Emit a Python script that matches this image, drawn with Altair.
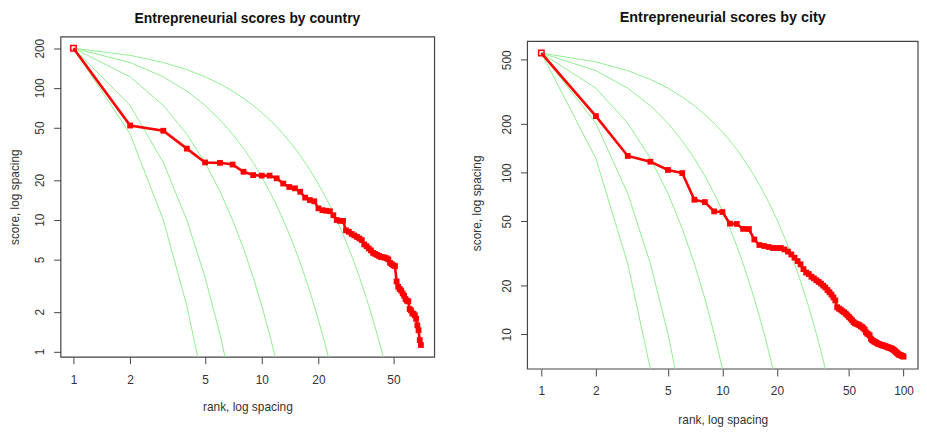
import altair as alt
import pandas as pd

# ---------------- data ----------------
country_ranks = list(range(1, 71))
country_scores = [200, 51.8, 47.3, 34.6, 27.2, 27.0, 26.2, 23.1, 21.8, 21.6,
                  21.6, 20.6, 18.8, 17.7, 17.3, 16.3, 14.7, 14.1, 13.8, 12.2,
                  11.8, 11.7, 11.6, 10.8, 9.95, 9.8, 9.8, 8.3, 8.1, 7.8,
                  7.6, 7.4, 7.2, 7.0, 6.5, 6.3, 6.05, 5.85, 5.6, 5.5,
                  5.4, 5.3, 5.2, 5.2, 5.15, 5.1, 5.0, 4.7, 4.6, 4.5,
                  4.45, 3.4, 3.1, 2.98, 2.9, 2.76, 2.65, 2.5, 2.43, 2.4,
                  2.1, 2.05, 1.95, 1.93, 1.88, 1.77, 1.58, 1.45, 1.22, 1.12]

city_ranks = list(range(1, 101))
city_scores = [550, 224, 127, 117, 104, 99.5, 68, 65.8, 57.6, 57.1,
               48.4, 48.2, 44.9, 44.8, 38.6, 35.7, 35.2, 34.7, 34.2, 34.2,
               34.2, 33.5, 32.5, 31.2, 29.8, 28.4, 27.1, 25.3, 24.1, 23.6,
               22.7, 22.2, 21.6, 21.1, 20.6, 20.0, 19.5, 18.8, 18.2, 17.6,
               16.9, 16.2, 14.7, 14.4, 14.2, 13.9, 13.7, 13.4, 13.1, 12.8,
               12.5, 12.2, 11.9, 11.7, 11.6, 11.5, 11.4, 11.2, 11.1, 10.9,
               10.7, 10.3, 10.1, 10.0, 9.85, 9.4, 9.2, 9.1, 9.0, 8.95,
               8.85, 8.76, 8.7, 8.66, 8.6, 8.56, 8.52, 8.5, 8.45, 8.4,
               8.36, 8.3, 8.28, 8.24, 8.2, 8.15, 8.1, 8.0, 7.95, 7.85,
               7.75, 7.66, 7.6, 7.5, 7.46, 7.43, 7.4, 7.35, 7.32, 7.27]

# light-green guide curves (values by rank)
country_guides = [
    [200, 44.6, 9.96, 2.22, 0.50],
    [200, 73.6, 27.1, 9.96, 3.66, 1.35, 0.50],
    [200, 121.3, 73.6, 44.6, 27.1, 16.4, 9.96, 6.04, 3.66, 2.22, 1.35, 0.82, 0.50],
    [200, 155.8, 121.3, 94.5, 73.6, 57.3, 44.6, 34.8, 27.1, 21.1, 16.4, 12.8,
     9.96, 7.76, 6.04, 4.71, 3.66, 2.85, 2.22, 1.73, 1.35, 1.05, 0.82, 0.64],
    [200, 176.5, 155.8, 137.5, 121.3, 107.1, 94.5, 83.4, 73.6, 64.9, 57.3, 50.6,
     44.6, 39.4, 34.8, 30.7, 27.1, 23.9, 21.1, 18.6, 16.4, 14.5, 12.8, 11.3,
     9.96, 8.79, 7.76, 6.85, 6.04, 5.33, 4.71, 4.15, 3.66, 3.23, 2.85, 2.52,
     2.22, 1.96, 1.73, 1.53, 1.35, 1.19, 1.05, 0.93, 0.82, 0.72],
]
city_guides = [
    [550, 122.7, 27.4, 6.1, 1.37],
    [550, 202.3, 74.4, 27.4, 10.1, 3.7],
    [550, 333.6, 202.3, 122.7, 74.4, 45.1, 27.4, 16.6, 10.1, 6.1, 3.7],
    [550, 428.3, 333.6, 259.8, 202.3, 157.6, 122.7, 95.6, 74.4, 58.0, 45.1, 35.2,
     27.4, 21.3, 16.6, 12.9, 10.1, 7.85, 6.1, 4.76, 3.7],
    [550, 485.4, 428.3, 378.0, 333.6, 294.4, 259.8, 229.3, 202.3, 178.6, 157.6,
     139.1, 122.7, 108.3, 95.6, 84.4, 74.4, 65.7, 58.0, 51.2, 45.1, 39.8, 35.2,
     31.0, 27.4, 24.2, 21.3, 18.8, 16.6, 14.7, 12.9, 11.4, 10.1, 8.9, 7.85,
     6.93, 6.1, 5.4, 4.76, 4.2],
]

country_xticks = [1, 2, 5, 10, 20, 50]
country_yticks = [1, 2, 5, 10, 20, 50, 100, 200]
city_xticks = [1, 2, 5, 10, 20, 50, 100]
city_yticks = [10, 20, 50, 100, 200, 500]

# plot-region extents (axis limits) of each panel
country_xlim = [0.854, 82.4]
country_ylim = [0.912, 245]
city_xlim = [0.838, 120.2]
city_ylim = [6.10, 650]

FONT = "Liberation Sans"
TXT = "#333333"
FRAME = "#444444"


def guide_frame(guides):
    rows = []
    for k, vals in enumerate(guides):
        for i, v in enumerate(vals):
            rows.append({"curve": k, "rank": i + 1, "score": v})
    return pd.DataFrame(rows)


def panel(title, title_size, title_offset, ranks, scores, guides,
          xlim, ylim, ydom_top, xticks, yticks, w, h, own_frame,
          x_lab_pad, x_title_pad, y_title_pad):
    df = pd.DataFrame({"rank": ranks, "score": scores})
    gdf = guide_frame(guides)
    xs = alt.Scale(type="log", domain=xlim, nice=False, zero=False)
    ys = alt.Scale(type="log", domain=[ylim[0], ydom_top], nice=False, zero=False)
    xax = alt.Axis(values=xticks, format="d", title="rank, log spacing",
                   titlePadding=x_title_pad, labelPadding=x_lab_pad)
    yax = alt.Axis(values=yticks, format="d", title="score, log spacing",
                   labelAngle=270, labelAlign="center", labelBaseline="bottom",
                   labelPadding=7, titlePadding=y_title_pad)
    x = alt.X("rank:Q", scale=xs, axis=xax)
    y = alt.Y("score:Q", scale=ys, axis=yax)

    layers = []
    if own_frame:
        fr = pd.DataFrame({"x1": [xlim[0]], "x2": [xlim[1]], "y1": [ylim[0]], "y2": [ylim[1]]})
        layers.append(alt.Chart(fr).mark_rect(fill=None, stroke=FRAME, strokeWidth=1.2).encode(
            x=alt.X("x1:Q", scale=xs, axis=xax), x2="x2:Q",
            y=alt.Y("y1:Q", scale=ys, axis=yax), y2="y2:Q"))
    green = alt.Chart(gdf).mark_line(color="#90EE90", strokeWidth=1, clip=True).encode(
        x=x, y=y, detail="curve:N", order="rank:Q")
    red = alt.Chart(df).mark_line(color="#FF0000", strokeWidth=2.6).encode(
        x=x, y=y, order="rank:Q")
    pts = alt.Chart(df[df["rank"] > 1]).mark_point(
        shape="square", filled=True, color="#FF0000", size=34, opacity=1).encode(x=x, y=y)
    first = alt.Chart(df[df["rank"] == 1]).mark_point(
        shape="square", filled=False, color="#FF0000", size=30, strokeWidth=1.5,
        opacity=1).encode(x=x, y=y)
    layers += [green, red, pts, first]
    props = dict(width=w, height=h,
                 title=alt.TitleParams(title, font=FONT, fontSize=title_size, fontWeight="bold",
                                       color="#111111", anchor="middle", offset=title_offset))
    if own_frame:
        props["view"] = alt.ViewBackground(stroke=None)
    return alt.layer(*layers).properties(**props)


left = panel("Entrepreneurial scores by country", 14, 11,
             country_ranks, country_scores, country_guides,
             country_xlim, country_ylim, country_ylim[1],
             country_xticks, country_yticks, 377, 323, False,
             11, 16, 12)
right = panel("Entrepreneurial scores by city", 14.5, 11,
              city_ranks, city_scores, city_guides,
              city_xlim, city_ylim, 695.6,
              city_xticks, city_yticks, 394, 335.3, True,
              10, 18, 17)

chart = alt.hconcat(left, right, spacing=36).properties(
    padding={"left": 0, "top": 0, "right": 0, "bottom": 0}
).configure_view(
    stroke=FRAME, strokeWidth=1.2
).configure_axis(
    domain=False, grid=False, tickColor=FRAME, tickSize=7, tickWidth=1,
    labelFont=FONT, labelFontSize=12, labelColor=TXT,
    titleFont=FONT, titleFontSize=12, titleFontWeight="normal", titleColor=TXT
)

chart.save("out.html", embed_options={"renderer": "svg", "actions": False})
